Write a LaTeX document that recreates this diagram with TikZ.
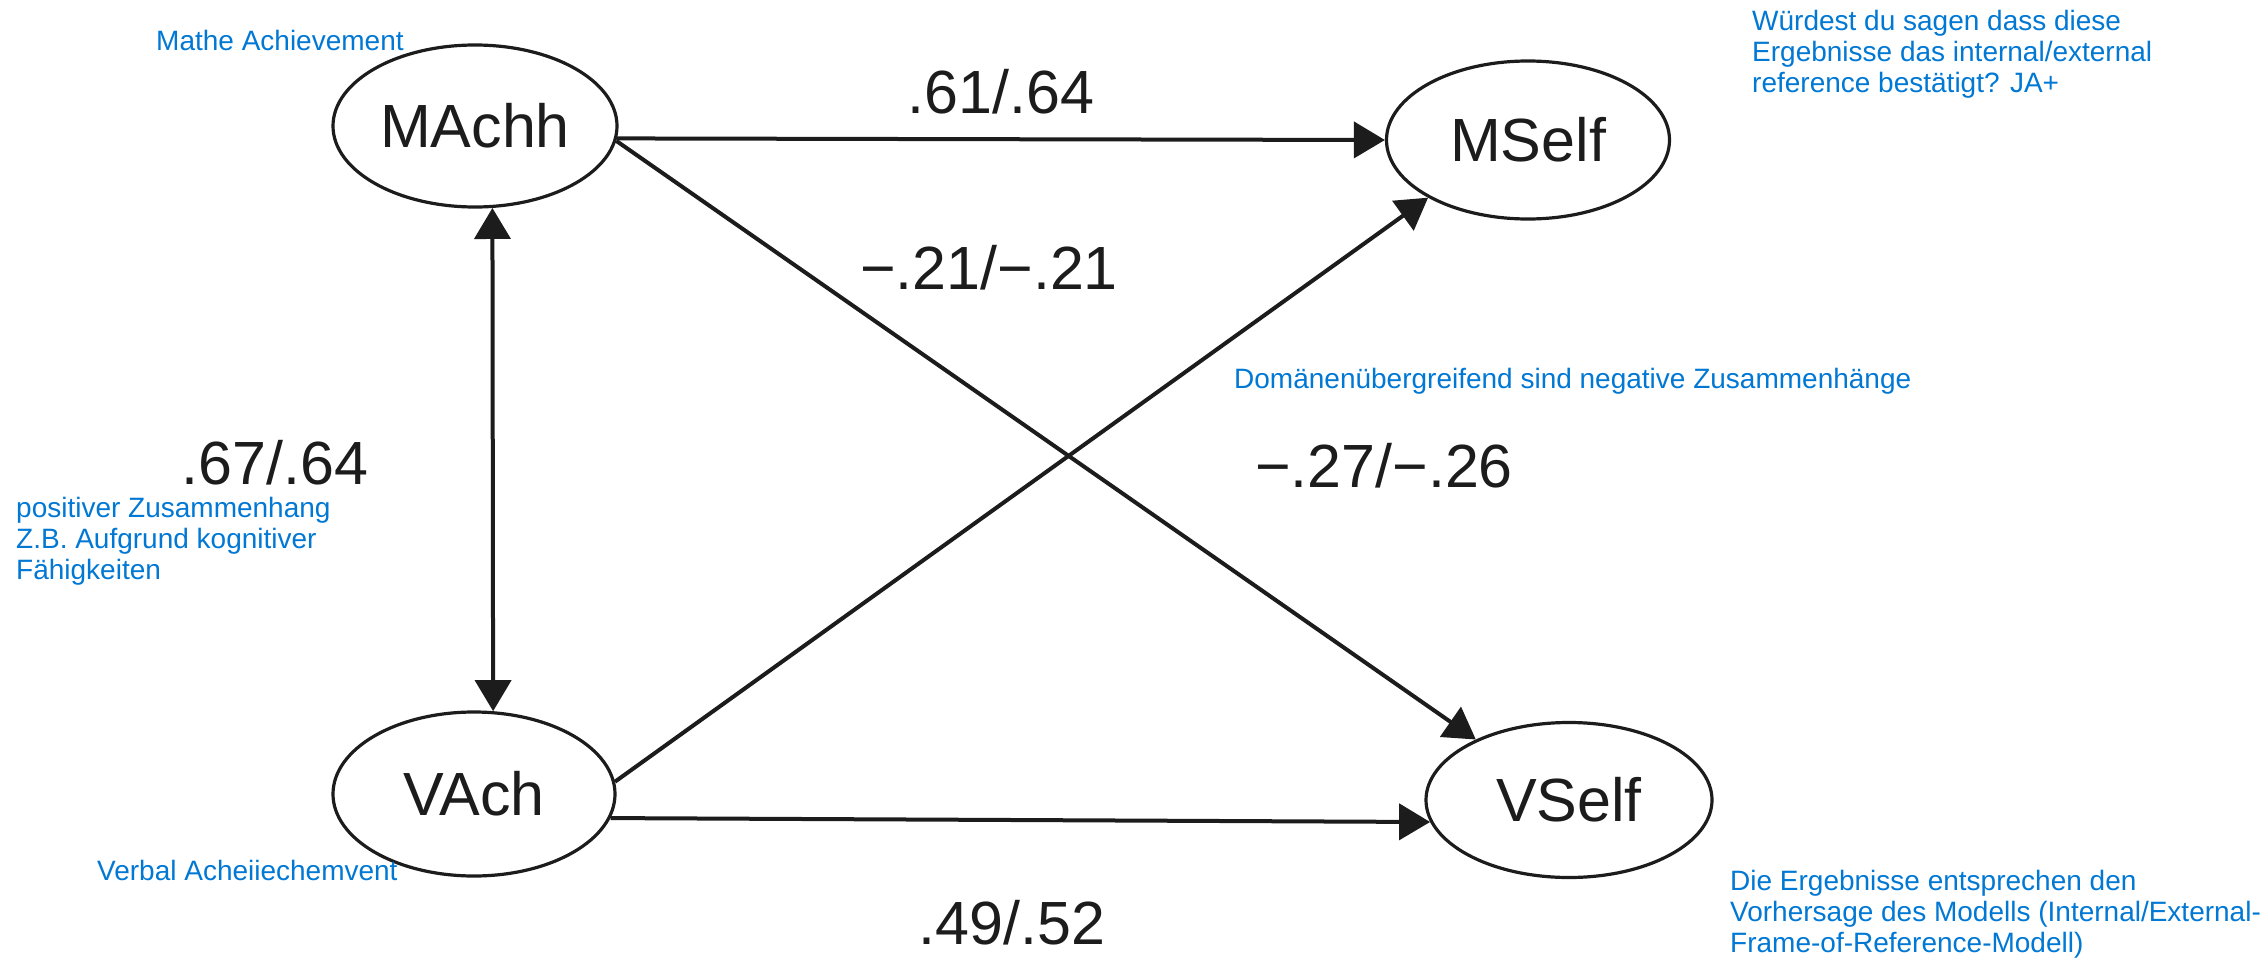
\documentclass[tikz,border=0pt]{standalone}
\usepackage{fontspec}
\setmainfont{Liberation Sans}
\usetikzlibrary{shapes.geometric,arrows.meta}
\definecolor{ink}{RGB}{28,28,28}
\definecolor{notecol}{RGB}{0,120,212}
\begin{document}
\begin{tikzpicture}[x=1pt,y=-1pt,
  construct/.style={ellipse, draw=ink, line width=3.2pt, inner sep=0pt,
    font=\fontsize{61}{70}\selectfont, text=ink},
  effect/.style={draw=ink, line width=4pt, -{Triangle[length=31pt,width=36pt]}},
  mutual/.style={draw=ink, line width=4pt,
    {Triangle[length=31pt,width=36pt]}-{Triangle[length=31pt,width=36pt]}},
  coef/.style={font=\fontsize{61}{70}\selectfont, text=ink, inner sep=0pt},
  remark/.style={font=\fontsize{28}{31}\selectfont, text=notecol, inner sep=0pt, align=left}
]
\useasboundingbox (0,0) rectangle (2268,961);
\fill[white] (0,0) rectangle (2268,961);

% constructs
\node[construct, minimum width=284pt, minimum height=162pt] (machh) at (475,126) {MAchh};
\node[construct, minimum width=283pt, minimum height=158pt] (mself) at (1528,140) {MSelf};
\node[construct, minimum width=282pt, minimum height=164pt] (vach)  at (474,794) {VAch};
\node[construct, minimum width=286pt, minimum height=155pt] (vself) at (1569,800) {VSelf};

% paths
\draw[effect] (machh.-5.2) -- (mself.west);
\draw[effect] (machh.-6.8) -- (vself.147.7);
\draw[effect] (vach.5.7) -- (mself.210.2);
\draw[effect] (vach.-10.8) -- (vself.189);
\draw[mutual] (machh.-78.1) -- (vach.77.6);

% coefficients
\node[coef] (c1) at (1001,92)  {.61/.64};
\node[coef] (c2) at (989,268)  {−.21/−.21};
\node[coef] (c3) at (275,463)  {.67/.64};
\node[coef] (c4) at (1384,466) {−.27/−.26};
\node[coef] (c5) at (1012,923) {.49/.52};

% remarks
\node[remark, anchor=base west] (r1) at (156,50) {Mathe Achievement};
\node[remark, anchor=base west] (r2) at (97,880) {Verbal Acheiiechemvent};
\node[remark, anchor=base west] (r3) at (1234,388) {Domänenübergreifend sind negative Zusammenhänge};
\node[remark, anchor=north west] (r4) at (16,497) {positiver Zusammenhang\\Z.B. Aufgrund kognitiver\\Fähigkeiten};
\node[remark, anchor=north west] (r5) at (1752,10) {Würdest du sagen dass diese\\Ergebnisse das internal/external\\reference bestätigt? JA+};
\node[remark, anchor=north west] (r6) at (1730,870) {Die Ergebnisse entsprechen den\\Vorhersage des Modells (Internal/External-\\Frame-of-Reference-Modell)};
\end{tikzpicture}
\end{document}
